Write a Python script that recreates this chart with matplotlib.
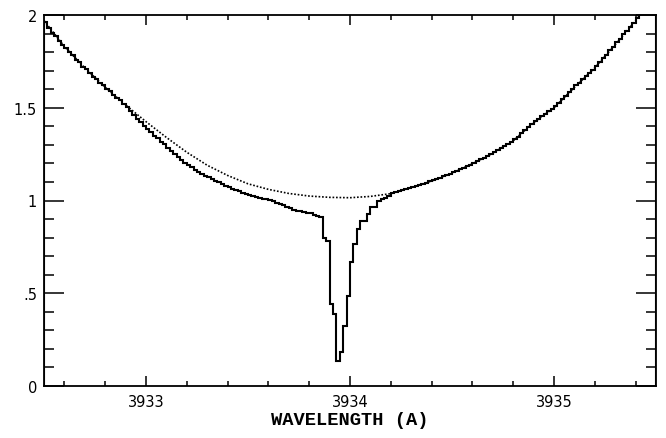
import numpy as np
import matplotlib
matplotlib.use("Agg")
import matplotlib.pyplot as plt
from matplotlib.ticker import MultipleLocator, FixedFormatter, FixedLocator

# ---- data ----
# observed spectrum, 180 bins of 1/60 A from 3932.5 to 3935.5
flux = [
    1.96, 1.93, 1.905, 1.885, 1.86, 1.84,
    1.822, 1.80, 1.785, 1.76, 1.745, 1.722,
    1.708, 1.69, 1.668, 1.655, 1.635, 1.62,
    1.60, 1.588, 1.57, 1.553, 1.54, 1.522,
    1.502, 1.482, 1.462, 1.442, 1.422, 1.40,
    1.383, 1.367, 1.350, 1.335, 1.318, 1.302,
    1.283, 1.268, 1.252, 1.236, 1.22, 1.203,
    1.189, 1.178, 1.166, 1.154, 1.143, 1.132,
    1.125, 1.116, 1.107, 1.098, 1.089, 1.08,
    1.071, 1.064, 1.056, 1.049, 1.041, 1.034,
    1.029, 1.026, 1.02, 1.015, 1.01, 1.006,
    1.003, 0.996, 0.989, 0.981, 0.974, 0.966,
    0.958, 0.950, 0.945, 0.942, 0.939, 0.935,
    0.93, 0.922, 0.915, 0.91, 0.80, 0.78,
    0.44, 0.39, 0.135, 0.185, 0.325, 0.487,
    0.667, 0.765, 0.846, 0.891, 0.891, 0.927,
    0.963, 0.963, 1.0, 1.008, 1.015, 1.025,
    1.038, 1.046, 1.050, 1.057, 1.060, 1.068,
    1.072, 1.08, 1.084, 1.091, 1.095, 1.103,
    1.108, 1.117, 1.122, 1.131, 1.136, 1.145,
    1.153, 1.16, 1.17, 1.176, 1.186, 1.193,
    1.204, 1.211, 1.223, 1.230, 1.242, 1.249,
    1.262, 1.271, 1.284, 1.293, 1.306, 1.315,
    1.331, 1.345, 1.364, 1.378, 1.396, 1.411,
    1.428, 1.439, 1.454, 1.466, 1.481, 1.492,
    1.51, 1.526, 1.547, 1.563, 1.583, 1.60,
    1.62, 1.635, 1.655, 1.67, 1.69, 1.705,
    1.726, 1.745, 1.768, 1.787, 1.81, 1.829,
    1.852, 1.871, 1.895, 1.915, 1.938, 1.958,
    1.982, 2.004, 2.03, 2.05, 2.075, 2.10,
]
wave_start, wave_end = 3932.5, 3935.5

# continuum (dotted), sampled every 0.1 A
cont_wave = [3932.5, 3932.6, 3932.7, 3932.8, 3932.9, 3933.0, 3933.1, 3933.2,
             3933.3, 3933.4, 3933.5, 3933.6, 3933.7, 3933.8, 3933.9, 3934.0,
             3934.1, 3934.2, 3934.3, 3934.4, 3934.5, 3934.6, 3934.7, 3934.8,
             3934.9, 3935.0, 3935.1, 3935.2, 3935.3, 3935.4, 3935.5]
cont_flux = [1.97, 1.83, 1.715, 1.61, 1.515, 1.425, 1.34, 1.26,
             1.19, 1.135, 1.09, 1.06, 1.038, 1.024, 1.017, 1.015,
             1.022, 1.037, 1.07, 1.105, 1.148, 1.198, 1.255, 1.322,
             1.42, 1.50, 1.61, 1.715, 1.84, 1.97, 2.11]

x_ticks = [3933, 3934, 3935]
y_ticks = [0, 0.5, 1, 1.5, 2]
y_tick_labels = ["0", ".5", "1", "1.5", "2"]
x_label = "WAVELENGTH (A)"

# ---- figure ----
fig = plt.figure(figsize=(6.66, 4.39), dpi=100)
ax = fig.add_axes([44/666, 1-387/439, (656-44)/666, (387-16)/439])

edges = np.linspace(wave_start, wave_end, len(flux) + 1)
ax.plot(cont_wave, cont_flux, color="black", lw=1.2, linestyle=(0, (1, 1.1)))
ax.stairs(flux, edges, color="black", lw=1.5)

ax.set_xlim(wave_start, wave_end)
ax.set_ylim(0, 2)

ax.xaxis.set_major_locator(FixedLocator(x_ticks))
ax.xaxis.set_minor_locator(MultipleLocator(0.2))
ax.yaxis.set_major_locator(FixedLocator(y_ticks))
ax.yaxis.set_major_formatter(FixedFormatter(y_tick_labels))
ax.yaxis.set_minor_locator(MultipleLocator(0.1))

ax.tick_params(axis="both", which="both", direction="in", top=True, right=True,
               width=1.1, colors="black", labelsize=10.5)
ax.tick_params(axis="x", which="major", length=7.5, pad=6)
ax.tick_params(axis="x", which="minor", length=3.8)
ax.tick_params(axis="y", which="major", length=14.4, pad=5)
ax.tick_params(axis="y", which="minor", length=7.2)
for s in ax.spines.values():
    s.set_linewidth(1.3)

ax.set_xlabel(x_label, family="Liberation Mono", fontweight="bold",
              fontsize=13.5, labelpad=1)

fig.savefig("out.png", dpi=100)
